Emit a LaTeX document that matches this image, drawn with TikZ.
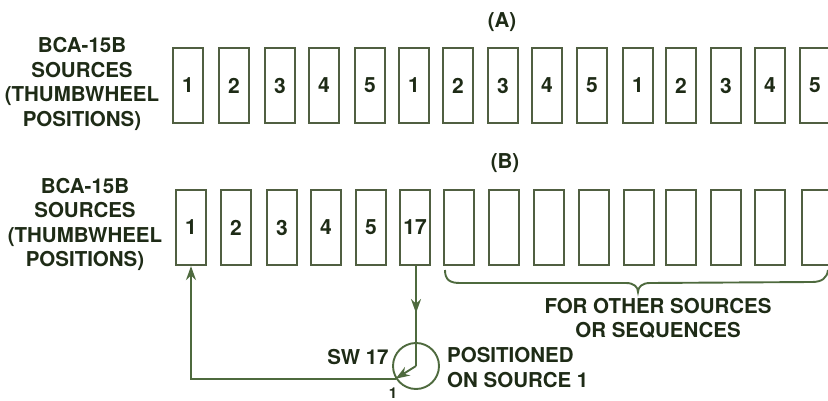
\documentclass[tikz,border=0pt]{standalone}
\usepackage{fontspec}
\setmainfont{TeX Gyre Heros}
\usetikzlibrary{arrows.meta,decorations.markings}
\definecolor{ink}{HTML}{1E2B16}
\definecolor{boxc}{HTML}{505F41}
\definecolor{wire}{HTML}{4E6A3E}
\begin{document}
\begin{tikzpicture}[x=1pt,y=-1pt,
  slot/.style={draw=boxc,line width=2.2pt,minimum width=30pt,minimum height=75pt,inner sep=0pt,text=ink,font=\fontsize{21}{21}\selectfont\bfseries},
  lbl/.style={text=ink,font=\fontsize{20.5}{24.5}\selectfont\bfseries,align=center,inner sep=0pt},
  wireline/.style={draw=wire,line width=1.9pt},
  tip/.style={-{Stealth[length=14pt,width=10pt]}}]
\useasboundingbox (0,0) rectangle (828,401);
\clip (0,0) rectangle (828,401);
% row A
\foreach \x/\t/\i in {188/1/1,234/2/2,280/3/3,324/4/4,370/5/5,414/1/6,458/2/7,503/3/8,547/4/9,592/5/10,638/1/11,681/2/12,726/3/13,770/4/14,815/5/15}
  \node[slot] (a\i) at (\x,85.5) {\t};
% row B
\foreach \x/\t/\i in {191/1/1,236/2/2,282/3/3,326/4/4,371/5/5,415/17/6,459//7,504//8,549//9,594//10,639//11,681//12,726//13,770//14,817//15}
  \node[slot] (b\i) at (\x,227.5) {\t};
% labels
\node[lbl] (la) at (82,84) {BCA-15B\\SOURCES\\(THUMBWHEEL\\POSITIONS)};
\node[lbl] (lb) at (85,224.5) {BCA-15B\\SOURCES\\(THUMBWHEEL\\POSITIONS)};
\node[lbl] (ta) at (502,22) {(A)};
\node[lbl] (tb) at (505,163) {(B)};
\node[lbl] (other) at (658,318.5) {FOR OTHER SOURCES\\OR SEQUENCES};
% brace
\draw[wireline] (445,270) .. controls (445,280) and (450,283) .. (460,283) -- (626,283)
  .. controls (634,283) and (638,287) .. (638,292)
  .. controls (638,287) and (642,283) .. (650,283) -- (812,282)
  .. controls (822,282) and (827,278) .. (828,270);
% switch
\node[draw=wire,line width=1.9pt,circle,minimum size=46pt,inner sep=0pt] (sw) at (416,366) {};
\node[lbl] (swl) at (358,357) {SW 17};
\node[lbl,align=left,anchor=west] (pos) at (447,367.5) {POSITIONED\\ON SOURCE 1};
\node[lbl,font=\fontsize{15}{15}\selectfont\bfseries] (c1) at (393,393) {1};
% connectors
\draw[wireline,postaction={decorate},decoration={markings,mark=at position 0.47 with {\arrow{Stealth[length=14pt,width=10pt]}}}]
  (sw.center |- b6.south) -- (sw.center);
\draw[wireline,tip] (sw.center) -- (sw.212);
\draw[wireline,tip] (sw.212) -- (sw.212 -| b1.south) -- (b1.south);
\end{tikzpicture}
\end{document}
